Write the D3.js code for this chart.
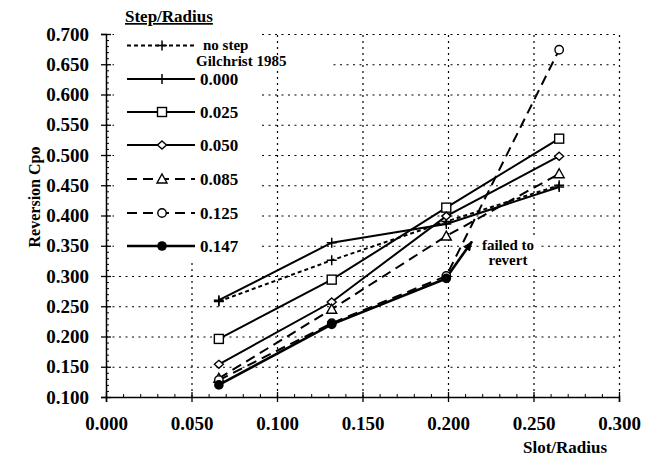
<!DOCTYPE html>
<html>
<head>
<meta charset="utf-8">
<script src="https://cdn.jsdelivr.net/npm/d3@7"></script>
<style>
  body { margin: 0; background: #fff; }
  svg { font-family: "Liberation Serif", "Times New Roman", serif; }
</style>
</head>
<body>
<div id="chart"></div>
<script>
var svgWidth = 653;
var svgHeight = 457;

// data
var slotRadius = [0.066, 0.132, 0.199, 0.265];
var seriesNames = ["no step", "0.000", "0.025", "0.050", "0.085", "0.125", "0.147"];
var gilchrist = [0.258, 0.326, 0.390, 0.450];
var step000 = [0.260, 0.355, 0.386, 0.447];
var step025 = [0.196, 0.294, 0.413, 0.527];
var step050 = [0.154, 0.257, 0.399, 0.498];
var step085 = [0.131, 0.245, 0.366, 0.469];
var step125 = [0.128, 0.222, 0.300, 0.674];
var step147 = [0.120, 0.220, 0.296];
// "failed to revert" arrow for 0.147
var arrowX = [0.199, 0.214];
var arrowY = [0.297, 0.357];

var xTicks = [0, 0.05, 0.1, 0.15, 0.2, 0.25, 0.3];
var yTicks = [0.1, 0.15, 0.2, 0.25, 0.3, 0.35, 0.4, 0.45, 0.5, 0.55, 0.6, 0.65, 0.7];

var x = d3.scaleLinear().domain([0, 0.3]).range([106, 619]);
var y = d3.scaleLinear().domain([0.1, 0.7]).range([397, 34]);

var svg = d3.select("#chart").append("svg")
  .attr("width", svgWidth)
  .attr("height", svgHeight);

// grid
svg.append("g")
  .attr("transform", "translate(0,397)")
  .call(d3.axisBottom(x).tickValues(xTicks.slice(1)).tickSize(-363).tickFormat(""))
  .call(g => g.select(".domain").remove())
  .selectAll("line")
  .attr("stroke", "#000").attr("stroke-width", 1.2).attr("stroke-dasharray", "2,4");

svg.append("g")
  .attr("transform", "translate(106,0)")
  .call(d3.axisLeft(y).tickValues(yTicks.slice(1)).tickSize(-513).tickFormat(""))
  .call(g => g.select(".domain").remove())
  .selectAll("line")
  .attr("stroke", "#000").attr("stroke-width", 1.2).attr("stroke-dasharray", "2,4.5");

// legend background hides the grid
svg.append("rect").attr("x", 114).attr("y", 27).attr("width", 147).attr("height", 233).attr("fill", "#fff");
svg.append("rect").attr("x", 261).attr("y", 58).attr("width", 71).attr("height", 10).attr("fill", "#fff");

// axes
var yAxis = svg.append("g").attr("transform", "translate(106,0)")
  .call(d3.axisLeft(y).tickValues(yTicks).tickSize(5).tickPadding(12).tickFormat(d3.format(".3f")));
yAxis.selectAll(".tick line").attr("x1", 5).attr("stroke-width", 1.3);
var yMinor = d3.range(0.1, 0.7001, 0.01).filter(v => Math.abs(v * 20 - Math.round(v * 20)) > 1e-6);
svg.append("g").attr("transform", "translate(106,0)")
  .call(d3.axisLeft(y).tickValues(yMinor).tickSize(-3).tickFormat(""))
  .call(g => g.select(".domain").remove());

var xAxis = svg.append("g").attr("transform", "translate(0,397)")
  .call(d3.axisBottom(x).tickValues(xTicks).tickSize(5).tickPadding(15).tickFormat(d3.format(".3f")));
xAxis.selectAll(".tick line").attr("y1", -5).attr("stroke-width", 1.3);
var xMinor = d3.range(0, 0.3001, 0.01).filter(v => Math.abs(v * 20 - Math.round(v * 20)) > 1e-6);
svg.append("g").attr("transform", "translate(0,397)")
  .call(d3.axisBottom(x).tickValues(xMinor).tickSize(-3).tickFormat(""))
  .call(g => g.select(".domain").remove());

svg.selectAll(".domain").attr("stroke-width", 1.5);
svg.selectAll(".tick text").attr("font-size", 19).attr("font-weight", "bold")
  .attr("font-family", "Liberation Serif").attr("fill", "#000");

// axis titles
svg.append("text")
  .attr("transform", "translate(40,197) rotate(-90)")
  .attr("text-anchor", "middle")
  .attr("font-size", 16).attr("font-weight", "bold")
  .text("Reversion Cpo");
svg.append("text")
  .attr("x", 565).attr("y", 453)
  .attr("text-anchor", "middle")
  .attr("font-size", 17).attr("font-weight", "bold")
  .text("Slot/Radius");

// series
var series = [
  { name: "no step", values: gilchrist, dash: "4,3", marker: "plus", width: 2 },
  { name: "0.000", values: step000, dash: null, marker: "plus", width: 2 },
  { name: "0.025", values: step025, dash: null, marker: "square", width: 2 },
  { name: "0.050", values: step050, dash: null, marker: "diamond", width: 2 },
  { name: "0.085", values: step085, dash: "10,6", marker: "triangle", width: 2 },
  { name: "0.125", values: step125, dash: "10,6", marker: "circle", width: 2 },
  { name: "0.147", values: step147, dash: null, marker: "dot", width: 2.6 }
];

function drawMarker(g, type, cx, cy) {
  if (type === "plus") {
    g.append("path").attr("d", `M${cx - 5},${cy}H${cx + 5}M${cx},${cy - 5}V${cy + 5}`)
      .attr("stroke", "#000").attr("stroke-width", 1.5).attr("fill", "none");
  } else if (type === "square") {
    g.append("rect").attr("x", cx - 4.5).attr("y", cy - 4.5).attr("width", 9).attr("height", 9)
      .attr("fill", "#fff").attr("stroke", "#000").attr("stroke-width", 1.4);
  } else if (type === "diamond") {
    g.append("path").attr("d", `M${cx},${cy - 4}L${cx + 4.5},${cy}L${cx},${cy + 4}L${cx - 4.5},${cy}Z`)
      .attr("fill", "#fff").attr("stroke", "#000").attr("stroke-width", 1.4);
  } else if (type === "triangle") {
    g.append("path").attr("d", `M${cx},${cy - 5}L${cx + 5},${cy + 4}L${cx - 5},${cy + 4}Z`)
      .attr("fill", "#fff").attr("stroke", "#000").attr("stroke-width", 1.4);
  } else if (type === "circle") {
    g.append("circle").attr("cx", cx).attr("cy", cy).attr("r", 4.2)
      .attr("fill", "#fff").attr("stroke", "#000").attr("stroke-width", 1.4);
  } else if (type === "dot") {
    g.append("circle").attr("cx", cx).attr("cy", cy).attr("r", 4.8).attr("fill", "#000");
  }
}

var line = d3.line().x((d, i) => x(slotRadius[i])).y(d => y(d));
var plot = svg.append("g");

series.forEach(function(s) {
  plot.append("path")
    .datum(s.values)
    .attr("d", line)
    .attr("fill", "none")
    .attr("stroke", "#000")
    .attr("stroke-width", s.width)
    .attr("stroke-dasharray", s.dash);
});

// arrow
svg.append("defs").append("marker")
  .attr("id", "arrow").attr("viewBox", "0 0 10 10")
  .attr("refX", 9).attr("refY", 5)
  .attr("markerWidth", 4).attr("markerHeight", 4)
  .attr("orient", "auto")
  .append("path").attr("d", "M0,1L10,5L0,9Z").attr("fill", "#000");
plot.append("line")
  .attr("x1", x(arrowX[0])).attr("y1", y(arrowY[0]))
  .attr("x2", x(arrowX[1])).attr("y2", y(arrowY[1]))
  .attr("stroke", "#000").attr("stroke-width", 2.6)
  .attr("marker-end", "url(#arrow)");

series.forEach(function(s) {
  s.values.forEach(function(v, i) {
    drawMarker(plot, s.marker, x(slotRadius[i]), y(v));
  });
});

// annotation
svg.append("rect").attr("x", 479).attr("y", 237).attr("width", 58).attr("height", 32).attr("fill", "#fff");
svg.append("text").attr("x", 508).attr("y", 250).attr("text-anchor", "middle")
  .attr("font-size", 15).attr("font-weight", "bold").text("failed to");
svg.append("text").attr("x", 508).attr("y", 265).attr("text-anchor", "middle")
  .attr("font-size", 15).attr("font-weight", "bold").text("revert");

// legend
var legend = svg.append("g");
legend.append("text").attr("x", 125).attr("y", 22)
  .attr("font-size", 17).attr("font-weight", "bold")
  .attr("text-decoration", "underline")
  .text("Step/Radius");

var rowY = [45.5, 79, 112, 145, 179, 213, 246];
series.forEach(function(s, i) {
  var ry = rowY[i];
  legend.append("line")
    .attr("x1", 127).attr("x2", 195).attr("y1", ry).attr("y2", ry)
    .attr("stroke", "#000").attr("stroke-width", s.width)
    .attr("stroke-dasharray", s.dash);
  drawMarker(legend, s.marker, 162, ry);
  if (i === 0) {
    legend.append("text").attr("x", 203).attr("y", ry + 4)
      .attr("font-size", 15).attr("font-weight", "bold").text(seriesNames[i]);
    legend.append("text").attr("x", 196).attr("y", ry + 20)
      .attr("font-size", 15).attr("font-weight", "bold").text("Gilchrist 1985");
  } else {
    legend.append("text").attr("x", 200).attr("y", ry + 6)
      .attr("font-size", 17).attr("font-weight", "bold").text(seriesNames[i]);
  }
});
</script>
</body>
</html>
